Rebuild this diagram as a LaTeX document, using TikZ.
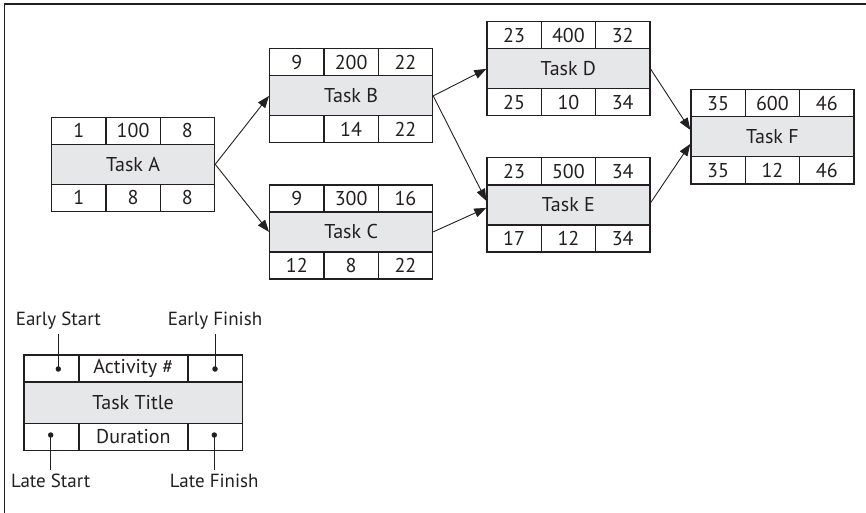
\documentclass[tikz,border=0pt]{standalone}
\usepackage{fontspec}
\setmainfont{PT Sans}
\usetikzlibrary{arrows.meta}
\definecolor{boxgray}{HTML}{E6E7E8}
\definecolor{ink}{HTML}{231F20}
\tikzset{
  txt/.style={font=\fontsize{20}{23}\selectfont, text=ink},
  cell/.style={txt, draw=ink, line width=1.2pt, minimum width=54.33pt, minimum height=27pt, inner sep=0pt, anchor=north west},
  titlecell/.style={cell, fill=boxgray, minimum width=163pt, minimum height=40pt},
  arr/.style={draw=ink, line width=0.9pt, -{Triangle[length=12pt,width=9pt]}},
  lead/.style={draw=ink, line width=0.9pt},
  dot/.style={circle, fill=ink, inner sep=0pt, minimum size=5.5pt},
  lab/.style={font=\fontsize{19}{22}\selectfont, text=ink, inner xsep=0pt, inner ysep=4pt},
  frame/.style={draw=ink, line width=1.5pt}
}
\newcommand\taskbox[8]{%
  \node[cell] (#1-es) at (0,0) {#2};
  \node[cell] (#1-id) at (54.33,0) {#3};
  \node[cell] (#1-ef) at (108.67,0) {#4};
  \node[titlecell] (#1) at (0,27) {#5};
  \node[cell] (#1-ls) at (0,67) {#6};
  \node[cell] (#1-du) at (54.33,67) {#7};
  \node[cell] (#1-lf) at (108.67,67) {#8};
}
\begin{document}
\begin{tikzpicture}[x=1pt, y=-1pt]
\useasboundingbox (0,0) rectangle (866,513);
\draw[frame] (4.5,513) -- (4.5,4) -- (866,4);

\begin{scope}[shift={(51,116.7)}]
  \taskbox{A}{1}{100}{8}{Task A}{1}{8}{8}
\end{scope}
\begin{scope}[shift={(269,48.3)}]
  \taskbox{B}{9}{200}{22}{Task B}{}{14}{22}
\end{scope}
\begin{scope}[shift={(269,184.3)}]
  \taskbox{C}{9}{300}{16}{Task C}{12}{8}{22}
\end{scope}
\begin{scope}[shift={(486.3,21.3)}]
  \taskbox{D}{23}{400}{32}{Task D}{25}{10}{34}
\end{scope}
\begin{scope}[shift={(486.3,157.3)}]
  \taskbox{E}{23}{500}{34}{Task E}{17}{12}{34}
\end{scope}
\begin{scope}[shift={(690.3,89.3)}]
  \taskbox{F}{35}{600}{46}{Task F}{35}{12}{46}
\end{scope}

\draw[arr] (A.east) -- (B.west);
\draw[arr] (A.east) -- (C.west);
\draw[arr] (B.east) -- (D.west);
\draw[arr] (B.east) -- ([yshift=4pt]E.west);
\draw[arr] (C.east) -- ([yshift=-3pt]E.west);
\draw[arr] (D.east) -- ([yshift=7pt]F.west);
\draw[arr] ([yshift=2pt]E.east) -- ([yshift=-7pt]F.west);

% legend
\node[cell, minimum width=55pt] (L-es) at (23.3,354.3) {};
\node[cell, minimum width=109pt] (L-id) at (78.3,354.3) {Activity \#};
\node[cell, minimum width=54.4pt] (L-ef) at (187.3,354.3) {};
\node[titlecell, minimum width=218.4pt, minimum height=41pt] (L) at (23.3,381.7) {Task Title};
\node[cell, minimum width=55pt] (L-ls) at (23.3,422.7) {};
\node[cell, minimum width=109pt] (L-du) at (78.3,422.7) {Duration};
\node[cell, minimum width=54.4pt] (L-lf) at (187.3,422.7) {};

\node[dot] (esdot) at (58.3,369) {};
\node[dot] (efdot) at (215,369) {};
\node[dot] (lsdot) at (50.7,435) {};
\node[dot] (lfdot) at (214.3,435) {};

\node[lab, anchor=south] (eslab) at (58.3,334) {Early Start};
\node[lab, anchor=south] (eflab) at (215,334) {Early Finish};
\node[lab, anchor=north] (lslab) at (50.7,470) {Late Start};
\node[lab, anchor=north] (lflab) at (214.3,470) {Late Finish};

\draw[lead] (esdot.center) -- (eslab.south);
\draw[lead] (efdot.center) -- (eflab.south);
\draw[lead] (lsdot.center) -- (lslab.north);
\draw[lead] (lfdot.center) -- (lflab.north);
\end{tikzpicture}
\end{document}
